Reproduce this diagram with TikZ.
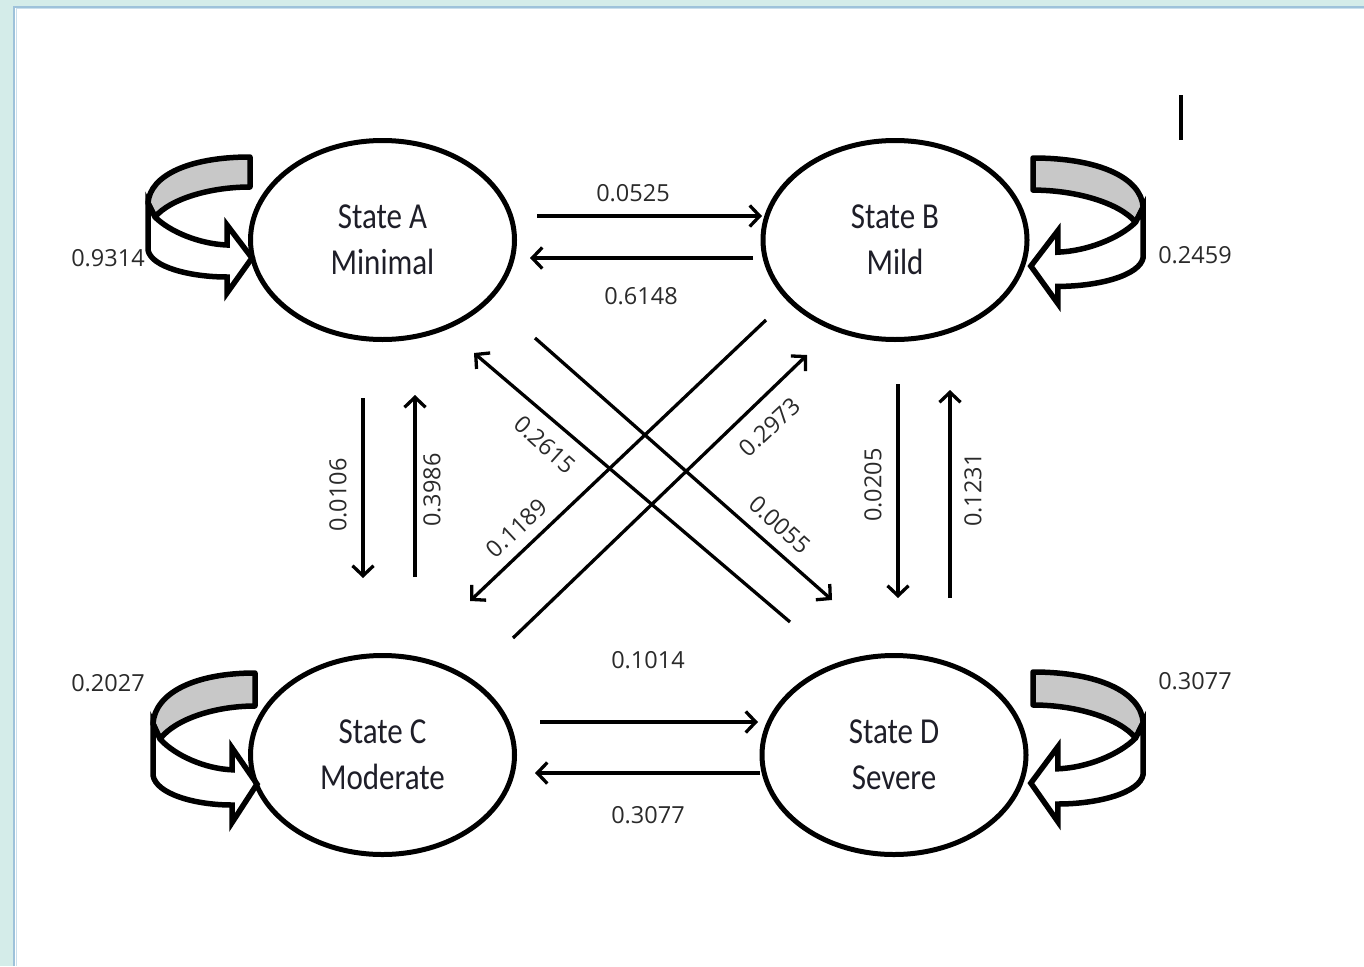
\documentclass[tikz,border=0pt]{standalone}
\usepackage{fontspec}
\setmainfont{Open Sans}
\newfontfamily\statefont{Carlito}
\usetikzlibrary{shapes.geometric,arrows.meta}

\definecolor{pagebg}{HTML}{D4ECE9}
\definecolor{frameblue}{HTML}{9EC2DA}
\definecolor{framelight}{HTML}{C9DFEC}
\definecolor{loopgray}{HTML}{C8C8C8}
\definecolor{numtext}{HTML}{2A2A2A}
\definecolor{statetext}{HTML}{1E1E28}

\newcommand{\statelabel}[2]{\scalebox{1}[1.18]{#1}\\\scalebox{1}[1.18]{#2}}

\tikzset{
  state/.style={ellipse, draw, line width=5pt, minimum width=264pt, minimum height=199pt,
    inner sep=0pt, align=center, text=statetext,
    font=\statefont\fontsize{31}{46}\selectfont},
  trans/.style={line width=3.3pt, -{Straight Barb[length=10pt,width=21pt,line width=3.3pt]}},
  prob/.style={font=\fontsize{23.5}{28}\selectfont, text=numtext, inner sep=0pt},
  loopback/.style={fill=loopgray, draw, line width=5.5pt, line join=round},
  loopfront/.style={fill=white, draw, line width=5.5pt, line join=miter},
  selfloop/.pic={
    % back of the band (grey), seen from behind
    \path[loopback] (0,0) .. controls (-60,0) and (-100,18) .. (-102,46)
      -- (-95,60) .. controls (-80,42) and (-40,30) .. (0,30) -- cycle;
    % front of the band ending in a block arrow head
    \path[loopfront] (-102,46) -- (-102,93)
      .. controls (-99,110) and (-60,120) .. (-23,120)
      -- (-23,136) -- (2,101) -- (-23,68) -- (-23,88)
      .. controls (-50,87) and (-80,75) .. (-95,60) -- cycle;
  },
}

\begin{document}
\begin{tikzpicture}[x=1pt,y=-1pt]
  \useasboundingbox (0,0) rectangle (1364,966);
  % page frame
  \fill[pagebg] (0,0) rectangle (1364,966);
  \fill[white] (13,6) rectangle (1364,966);
  \draw[frameblue, line width=2pt] (14,966) -- (14,7) -- (1364,7);
  \draw[framelight, line width=1pt] (16,966) -- (16,9) -- (1364,9);

  % self-transition loops
  \pic at (250,157) {selfloop};
  \pic[yscale=1.1] at (255,673) {selfloop};
  \pic[xscale=-1.08, yscale=1.07] at (1033,158) {selfloop};
  \pic[xscale=-1.08, yscale=1.1] at (1033,672) {selfloop};

  % states
  \node[state] (A) at (382.5,240) {\statelabel{State A}{Minimal}};
  \node[state] (B) at (895,240) {\statelabel{State B}{Mild}};
  \node[state] (C) at (382.5,755) {\statelabel{State C}{Moderate}};
  \node[state] (D) at (894,755) {\statelabel{State D}{Severe}};

  % connector end points
  \coordinate (ab1) at (537,216);  \coordinate (ab2) at (762,216);
  \coordinate (ba1) at (753,258);  \coordinate (ba2) at (530,258);
  \coordinate (cd1) at (540,722);  \coordinate (cd2) at (758,722);
  \coordinate (dc1) at (760,773);  \coordinate (dc2) at (535,773);
  \coordinate (ac1) at (363,398);  \coordinate (ac2) at (363,578);
  \coordinate (ca1) at (415,577);  \coordinate (ca2) at (415,395);
  \coordinate (bd1) at (898,384);  \coordinate (bd2) at (898,598);
  \coordinate (db1) at (950,598);  \coordinate (db2) at (950,390);
  \coordinate (ad1) at (535,338);  \coordinate (ad2) at (832,600);
  \coordinate (da1) at (790,622);  \coordinate (da2) at (474,353);
  \coordinate (bc1) at (766,320);  \coordinate (bc2) at (470,601);
  \coordinate (cb1) at (513,638);  \coordinate (cb2) at (807,355);

  % transitions
  \draw[trans] (ab1) -- (ab2);
  \draw[trans] (ba1) -- (ba2);
  \draw[trans] (cd1) -- (cd2);
  \draw[trans] (dc1) -- (dc2);
  \draw[trans] (ac1) -- (ac2);
  \draw[trans] (ca1) -- (ca2);
  \draw[trans] (bd1) -- (bd2);
  \draw[trans] (db1) -- (db2);
  \draw[trans] (ad1) -- (ad2);
  \draw[trans] (da1) -- (da2);
  \draw[trans] (bc1) -- (bc2);
  \draw[trans] (cb1) -- (cb2);

  % probabilities
  \node[prob] (pAA) at (108,258) {0.9314};
  \node[prob] (pBB) at (1195,255) {0.2459};
  \node[prob] (pCC) at (108,683) {0.2027};
  \node[prob] (pDD) at (1195,681) {0.3077};
  \node[prob] (pAB) at (633,193) {0.0525};
  \node[prob] (pBA) at (641,296) {0.6148};
  \node[prob] (pCD) at (648,660) {0.1014};
  \node[prob] (pDC) at (648,815) {0.3077};
  \node[prob, rotate=90] (pAC) at (338,495) {0.0106};
  \node[prob, rotate=90] (pCA) at (432,490) {0.3986};
  \node[prob, rotate=90] (pBD) at (873,485) {0.0205};
  \node[prob, rotate=90] (pDB) at (973,490) {0.1231};
  \node[prob, rotate=-42] (pDA) at (545,445) {0.2615};
  \node[prob, rotate=-42] (pAD) at (780,525) {0.0055};
  \node[prob, rotate=43] (pBC) at (517,528) {0.1189};
  \node[prob, rotate=43] (pCB) at (770,427) {0.2973};

  % small mark near the top right
  \draw[line width=4pt] (1181,95) -- (1181,140);
\end{tikzpicture}
\end{document}
